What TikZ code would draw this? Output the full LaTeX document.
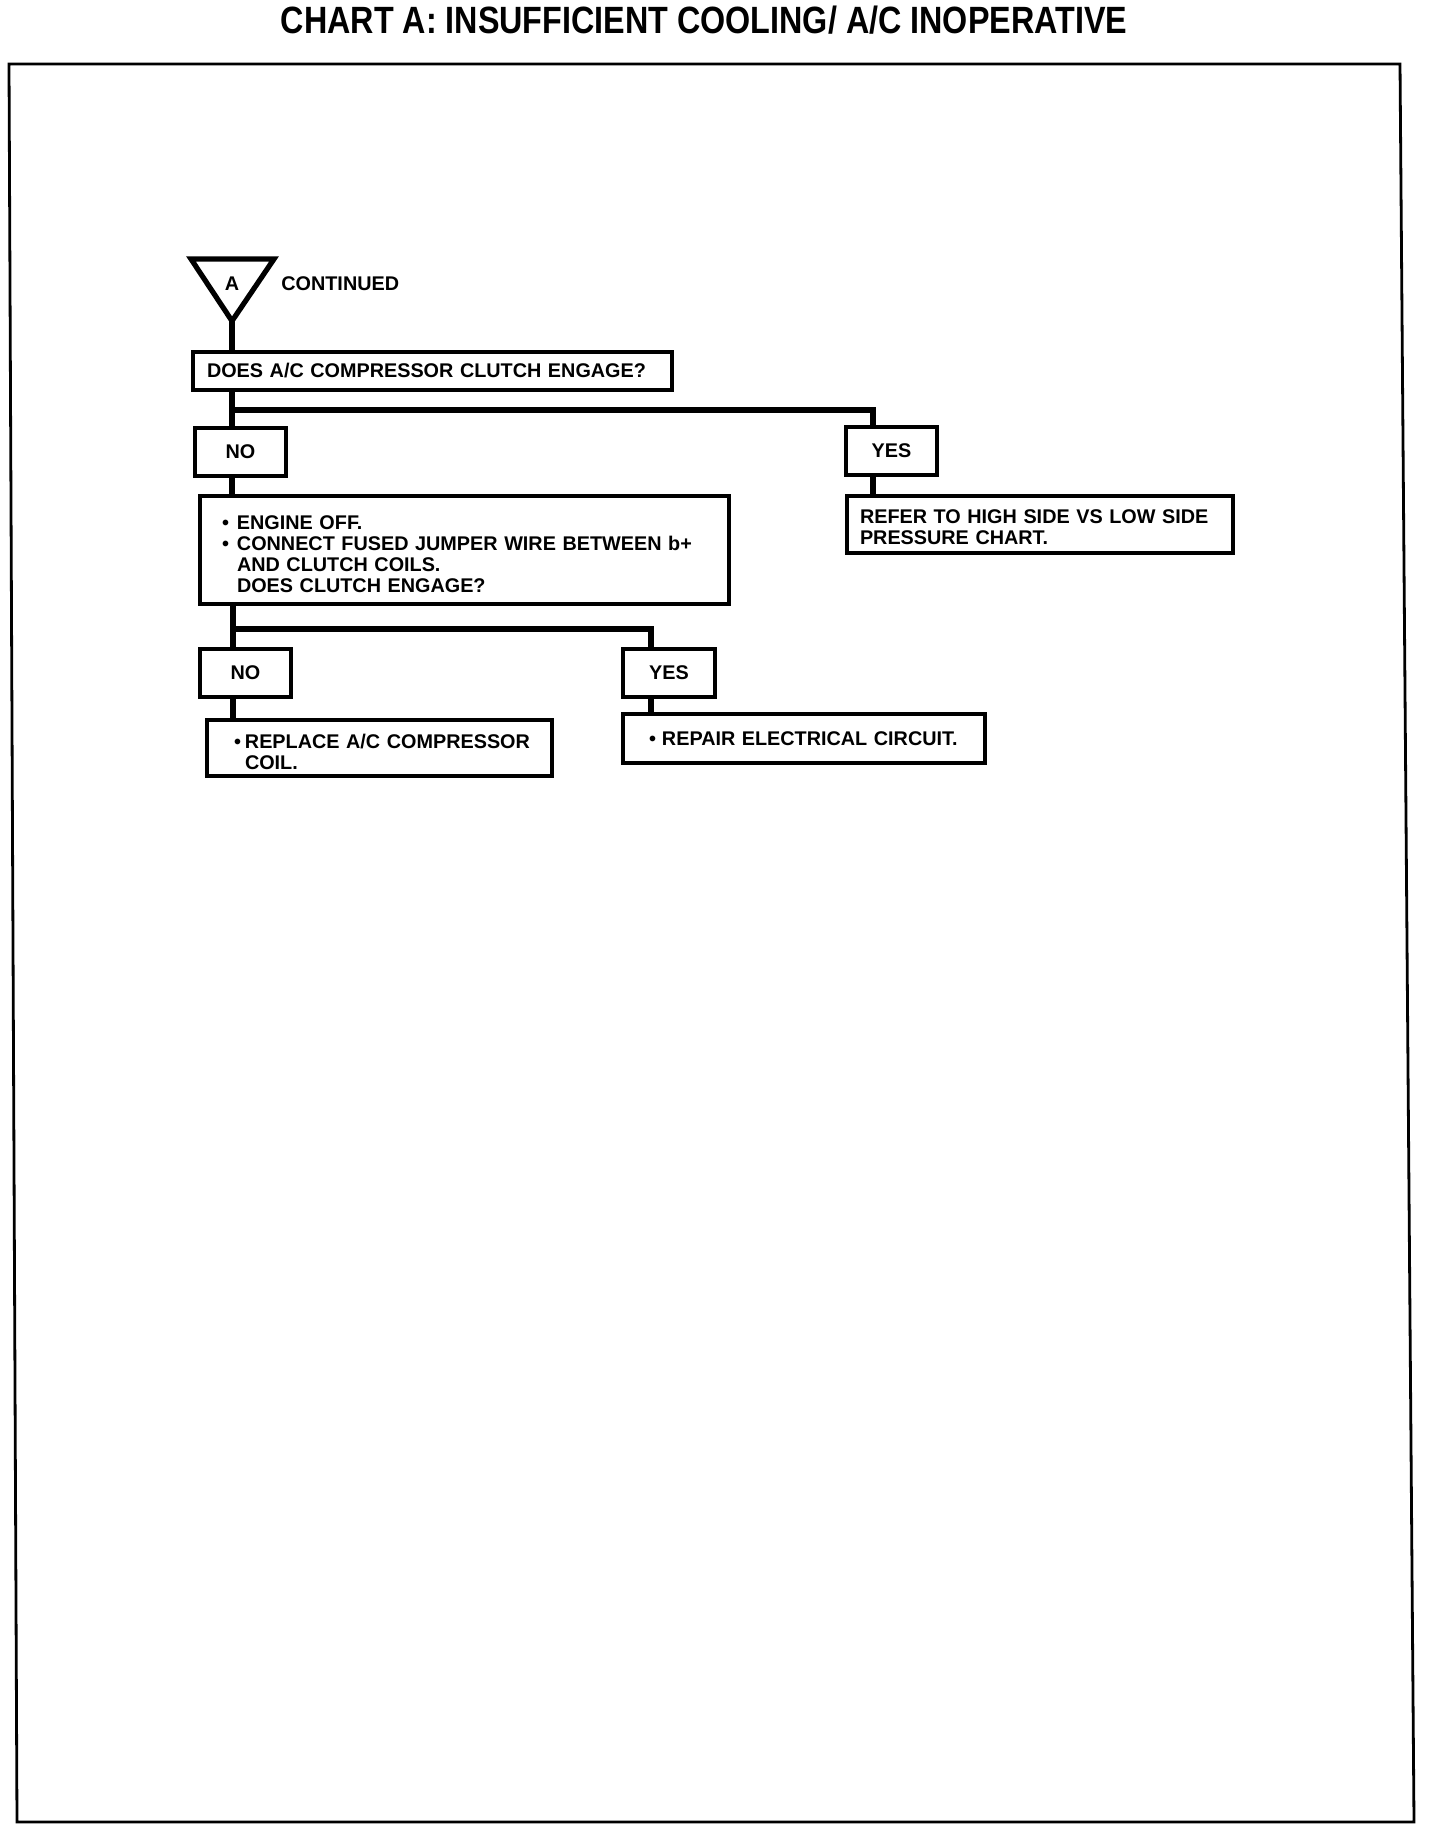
\documentclass[tikz,border=0pt]{standalone}
\usepackage{fontspec}
\setmainfont{Liberation Sans}
\hyphenpenalty=10000
\exhyphenpenalty=10000
\begin{document}
\begin{tikzpicture}[x=0.5pt,y=-0.5pt,
  box/.style={draw, line width=1.6pt, inner ysep=0pt, font=\bfseries\fontsize{9.9}{10.5}\selectfont, align=left},
  ansbox/.style={draw, line width=1.6pt, inner sep=0pt, font=\bfseries\fontsize{9.9}{10.5}\selectfont, align=center, minimum width=45.5pt, minimum height=24pt},
  conn/.style={line width=2.7pt},
  lbl/.style={font=\bfseries\fontsize{9.9}{10.5}\selectfont, inner sep=0pt},
]
\useasboundingbox (0,0) rectangle (1440,1830);
% frame
\draw[line width=1.4pt] (9,64) -- (1400,64) -- (1414,1822) -- (17,1822) -- cycle;
% title
\node (title) at (704,20) {\scalebox{0.85}[1]{\fontsize{19}{19}\selectfont\bfseries CHART A: INSUFFICIENT COOLING/ A/C INOPERATIVE}};
% off-page connector
\coordinate (triL) at (191,259);
\coordinate (triR) at (274,259);
\coordinate (triB) at (232,321);
\draw[line width=2.6pt, line join=miter] (triL) -- (triR) -- (triB) -- cycle;
\node[lbl] (A) at (232,284) {A};
\node[lbl, anchor=west] (cont) at (281,284) {CONTINUED};
% boxes
\node[box, minimum width=239.5pt, minimum height=19pt, inner xsep=7pt, text width=225.5pt] (q1) at (432.5,371) {DOES A/C COMPRESSOR CLUTCH ENGAGE?};
\node[ansbox] (no1) at (240.5,452) {NO};
\node[ansbox] (yes1) at (891.5,451) {YES};
\node[box, minimum width=193pt, minimum height=28.5pt, inner xsep=6.5pt, text width=180pt] (refer) at (1040,524.5) {\rule{0pt}{9.5pt}REFER TO HIGH SIDE VS LOW SIDE\\PRESSURE CHART.};
\node[box, minimum width=264.5pt, minimum height=54pt, inner xsep=11pt, text width=242.5pt] (q2) at (464.5,550) {\rule{0pt}{11pt}\makebox[7.5pt][l]{\textbullet}ENGINE OFF.\\\makebox[7.5pt][l]{\textbullet}CONNECT FUSED JUMPER WIRE BETWEEN b+\\\hspace*{7.5pt}AND CLUTCH COILS.\\\hspace*{7.5pt}DOES CLUTCH ENGAGE?};
\node[ansbox] (no2) at (245.5,673) {NO};
\node[ansbox, minimum width=46pt] (yes2) at (669,673) {YES};
\node[box, minimum width=172.5pt, minimum height=28pt, inner xsep=11pt, text width=150.5pt] (replace) at (379.5,748) {\rule{0pt}{11pt}\hspace*{2.5pt}\makebox[5.5pt][l]{\textbullet}REPLACE A/C COMPRESSOR\\\hspace*{8pt}COIL.};
\node[box, minimum width=181pt, minimum height=24.5pt, inner xsep=13pt, text width=155pt] (repair) at (804,738.5) {\makebox[6.5pt][l]{\textbullet}REPAIR ELECTRICAL CIRCUIT.};
% connector guides
\coordinate (s1) at (873,0);
\coordinate (j1) at (232,410);
\coordinate (j2) at (233,629);
\coordinate (s2) at (651,0);
% connectors
\draw[conn] (triB) -- (q1.north -| triB);
\draw[conn] (q1.south -| triB) -- (no1.north -| triB);
\draw[conn] (j1) -| (yes1.north -| s1);
\draw[conn] (yes1.south -| s1) -- (refer.north -| s1);
\draw[conn] (no1.south -| triB) -- (q2.north -| triB);
\draw[conn] (q2.south -| j2) -- (no2.north -| j2);
\draw[conn] (j2) -| (yes2.north -| s2);
\draw[conn] (no2.south -| j2) -- (replace.north -| j2);
\draw[conn] (yes2.south -| s2) -- (repair.north -| s2);
\end{tikzpicture}
\end{document}
